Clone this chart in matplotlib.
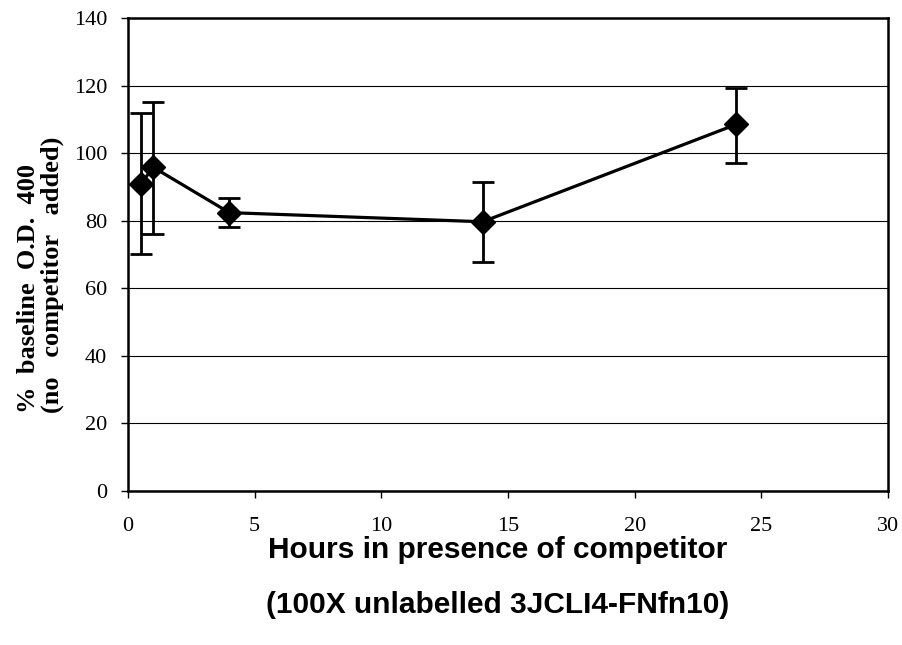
import matplotlib
matplotlib.use("Agg")
import matplotlib.pyplot as plt

# hours after competitor added
hours = [0.5, 1, 4, 14, 24]
# % of baseline O.D. 400
pct = [90.9, 95.8, 82.4, 79.7, 108.5]
err_low = [70.3, 76.0, 78.0, 67.7, 97.0]
err_high = [111.8, 115.2, 86.6, 91.5, 119.2]

x_ticks = [0, 5, 10, 15, 20, 25, 30]
y_ticks = [0, 20, 40, 60, 80, 100, 120, 140]

yerr = [[p - lo for p, lo in zip(pct, err_low)],
        [hi - p for p, hi in zip(pct, err_high)]]

fig = plt.figure(figsize=(9.03, 6.45), dpi=100)
ax = fig.add_axes([0.1418, 0.2388, 0.8416, 0.7332])

ax.errorbar(hours, pct, yerr=yerr, color='black', lw=2.3, marker='D',
            markersize=12.5, elinewidth=2, capsize=8, capthick=2, zorder=3)

ax.set_xlim(0, 30)
ax.set_ylim(0, 140)
ax.set_xticks(x_ticks)
ax.set_yticks(y_ticks)
ax.yaxis.grid(True, color='black', lw=0.8)
ax.set_axisbelow(True)
for s in ax.spines.values():
    s.set_linewidth(1.8)
    s.set_color('black')
ax.tick_params(direction='out', length=5, width=1, labelsize=16)
ax.tick_params(axis='x', pad=14)
ax.tick_params(axis='y', pad=10)
for lab in ax.get_xticklabels() + ax.get_yticklabels():
    lab.set_family('Liberation Serif')

fig.text(0.551, 0.147, 'Hours in presence of competitor', ha='center',
         va='center', fontsize=21.5, fontweight='bold', family='Liberation Sans')
fig.text(0.551, 0.062, '(100X unlabelled 3JCLI4-FNfn10)', ha='center',
         va='center', fontsize=21.5, fontweight='bold', family='Liberation Sans')

# two-line y label, bottom-aligned like the original
fig.text(0.032, 1 - 413 / 645, '%  baseline  O.D.  400', rotation=90,
         ha='center', va='bottom', fontsize=19, fontweight='bold',
         family='Liberation Serif')
fig.text(0.0575, 1 - 413 / 645, '(no   competitor   added)', rotation=90,
         ha='center', va='bottom', fontsize=19, fontweight='bold',
         family='Liberation Serif')

fig.savefig('out.png', dpi=100)
